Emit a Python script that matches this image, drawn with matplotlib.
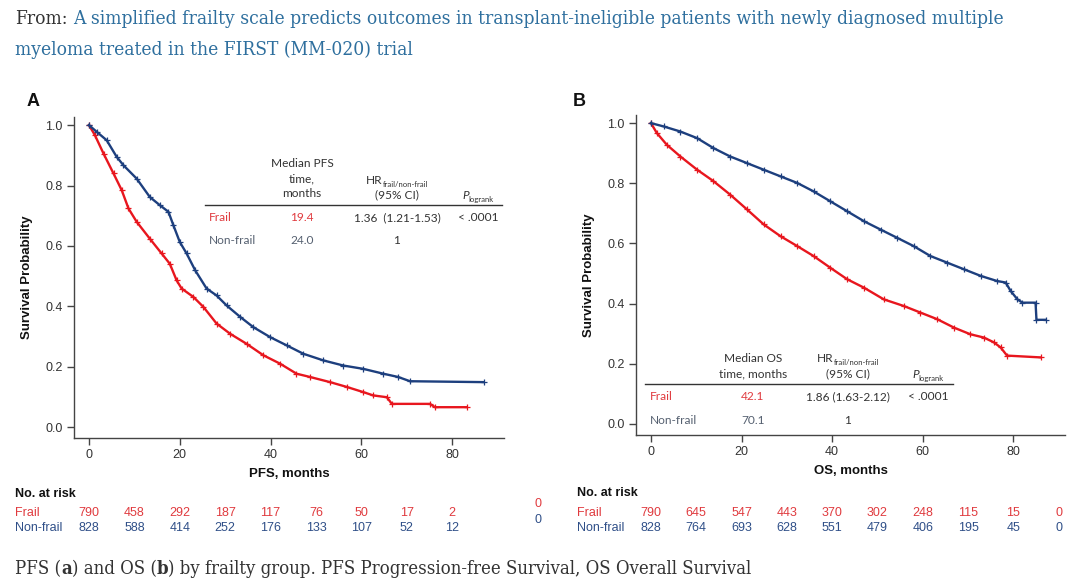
import matplotlib
matplotlib.use('Agg')
import matplotlib.pyplot as plt
from matplotlib.transforms import blended_transform_factory

# ---------------- data ----------------
pfs_frail_t = [0, 1.3, 3.2, 5.4, 7.2, 8.7, 10.5, 13.4, 16.0, 17.8, 19.3, 20.4, 23.0, 25.2, 28.1, 31.1,
               34.7, 38.4, 42.1, 45.7, 48.7, 53.1, 56.8, 60.4, 62.6, 65.6, 66.7, 75.1, 76.2, 83.2]
pfs_frail_s = [1.0, 0.967, 0.906, 0.84, 0.785, 0.724, 0.68, 0.624, 0.575, 0.541, 0.486, 0.459, 0.431, 0.398,
               0.343, 0.309, 0.276, 0.238, 0.21, 0.177, 0.166, 0.149, 0.133, 0.116, 0.105, 0.099, 0.077,
               0.077, 0.066, 0.066]
pfs_nonfrail_t = [0, 1.7, 3.9, 6.1, 7.6, 10.5, 13.4, 15.6, 17.5, 18.6, 20.0, 21.5, 23.4, 25.9, 28.1, 30.3,
                  33.3, 36.2, 39.9, 43.5, 47.2, 51.6, 56.0, 60.4, 64.8, 68.1, 70.7, 86.9]
pfs_nonfrail_s = [1.0, 0.978, 0.95, 0.895, 0.867, 0.823, 0.762, 0.735, 0.713, 0.668, 0.613, 0.575, 0.519,
                  0.459, 0.436, 0.403, 0.365, 0.331, 0.298, 0.271, 0.243, 0.221, 0.204, 0.193, 0.177,
                  0.166, 0.152, 0.149]

os_frail_t = [0, 1.3, 3.5, 6.5, 10.2, 13.8, 17.5, 21.2, 24.9, 28.6, 32.3, 35.9, 39.6, 43.3, 47.0, 51.4,
              55.8, 59.5, 63.2, 66.9, 70.5, 73.5, 75.7, 77.2, 78.6, 86.0]
os_frail_s = [1.0, 0.967, 0.928, 0.889, 0.845, 0.807, 0.762, 0.713, 0.663, 0.624, 0.591, 0.558, 0.519,
              0.481, 0.453, 0.414, 0.392, 0.370, 0.348, 0.320, 0.298, 0.287, 0.271, 0.254, 0.227, 0.221]
os_nonfrail_t = [0, 2.8, 6.5, 10.2, 13.8, 17.5, 21.2, 24.9, 28.6, 32.3, 35.9, 39.6, 43.3, 47.0, 50.7,
                 54.3, 58.0, 61.7, 65.4, 69.1, 72.8, 76.4, 78.3, 79.4, 80.9, 82.0, 84.9, 85.1, 87.1]
os_nonfrail_s = [1.0, 0.989, 0.972, 0.950, 0.917, 0.889, 0.867, 0.845, 0.823, 0.801, 0.773, 0.740, 0.707,
                 0.674, 0.646, 0.619, 0.591, 0.558, 0.536, 0.514, 0.492, 0.475, 0.470, 0.442, 0.414,
                 0.403, 0.403, 0.346, 0.346]

risk_times = [0, 10, 20, 30, 40, 50, 60, 70, 80, 90]
pfs_risk_frail = [790, 458, 292, 187, 117, 76, 50, 17, 2, 0]
pfs_risk_nonfrail = [828, 588, 414, 252, 176, 133, 107, 52, 12, 0]
os_risk_frail = [790, 645, 547, 443, 370, 302, 248, 115, 15, 0]
os_risk_nonfrail = [828, 764, 693, 628, 551, 479, 406, 195, 45, 0]

x_ticks = [0, 20, 40, 60, 80]
y_ticks = [0.0, 0.2, 0.4, 0.6, 0.8, 1.0]

pfs_median_hdr = ["Median PFS", "time,", "months"]
pfs_frail_row = ["19.4", "1.36  (1.21-1.53)", "< .0001"]
pfs_nonfrail_row = ["24.0", "1"]
os_median_hdr = ["Median OS", "time, months"]
os_frail_row = ["42.1", "1.86 (1.63-2.12)", "< .0001"]
os_nonfrail_row = ["70.1", "1"]

title_from = "From:"
title_line1 = "A simplified frailty scale predicts outcomes in transplant-ineligible patients with newly diagnosed multiple"
title_line2 = "myeloma treated in the FIRST (MM-020) trial"

# ---------------- style ----------------
RED = '#e8161e'
BLUE = '#1d3f7e'
RED_T = '#e03a3e'
BLUE_T = '#2f4f88'
GRAY_T = '#556070'
LINK = '#2e6f9e'
AX = '#444444'
SANS = ['Liberation Sans', 'DejaVu Sans']
TBL = ['Lato', 'DejaVu Sans']
SERIF = ['DejaVu Serif']

W, H = 1080, 586
fig = plt.figure(figsize=(W / 100, H / 100), dpi=100)
fig.patch.set_facecolor('white')


def fx(px):
    return px / W


def fy(py):
    return 1 - py / H


def txt(x, y, s, **kw):
    return fig.text(fx(x), fy(y), s, **kw)


renderer = fig.canvas.get_renderer()


def segs(x, y, parts, ha='left'):
    arts = []
    for s, kw, dy in parts:
        t = fig.text(0, 0, s, ha='left', va='baseline', **kw)
        arts.append((t, dy))
    widths = [t.get_window_extent(renderer).width for t, _ in arts]
    total = sum(widths)
    x0 = x if ha == 'left' else (x - total / 2 if ha == 'center' else x - total)
    for (t, dy), w in zip(arts, widths):
        t.set_position((fx(x0), fy(y + dy)))
        x0 += w
    return arts


def fit_size(s, target, start=12, **kw):
    t = fig.text(0, 0, s, fontsize=start, **kw)
    w = t.get_window_extent(renderer).width
    t.remove()
    return start * target / w


# ---------------- header ----------------
HEAD = dict(family=SERIF, fontstretch='condensed')
fs_head = fit_size(title_from + " " + title_line1, 990, **HEAD)
t_from = txt(15, 24, title_from, fontsize=fs_head, color='#333333', va='baseline', **HEAD)
wf = t_from.get_window_extent(renderer).width
txt(15 + wf + fs_head * 0.4, 24, title_line1, fontsize=fs_head, color=LINK, va='baseline', **HEAD)
txt(15, 55, title_line2, fontsize=fs_head, color=LINK, va='baseline', **HEAD)

# caption
fs_cap = fit_size("PFS (a) and OS (b) by frailty group. PFS Progression-free Survival, OS Overall Survival",
                  742, **HEAD)
ck = dict(fontsize=fs_cap, color='#333333', **HEAD)
cb = dict(fontsize=fs_cap, color='#333333', fontweight='bold', **HEAD)
segs(15, 574, [("PFS (", ck, 0), ("a", cb, 0), (") and OS (", ck, 0), ("b", cb, 0),
               (") by frailty group. PFS Progression-free Survival, OS Overall Survival", ck, 0)])


# ---------------- panels ----------------
def panel(rect, ylo, curves, xlabel, letter, letter_xy):
    ax = fig.add_axes([fx(rect[0]), fy(rect[1] + rect[3]), rect[2] / W, rect[3] / H])
    for t, s, c in curves:
        ax.plot(t, s, color=c, lw=1.7, marker='+', ms=4, mew=0.9, zorder=3)
    ax.set_xlim(-3.3, 91.4)
    ax.set_ylim(ylo, 1.027)
    ax.set_xticks(x_ticks)
    ax.set_yticks(y_ticks)
    ax.set_yticklabels([f"{v:.1f}" for v in y_ticks])
    for sp in ['top', 'right']:
        ax.spines[sp].set_visible(False)
    for sp in ['left', 'bottom']:
        ax.spines[sp].set_color(AX)
        ax.spines[sp].set_linewidth(1.0)
    ax.tick_params(direction='out', length=5, width=1, color=AX, labelsize=9, labelcolor='#333333', pad=3)
    for lab in ax.get_xticklabels() + ax.get_yticklabels():
        lab.set_family(SANS)
    ax.set_xlabel(xlabel, fontsize=9.5, fontweight='bold', family=SANS, color='#111111', labelpad=5)
    ax.set_ylabel("Survival Probability", fontsize=9.5, fontweight='bold', family=SANS, color='#111111',
                  labelpad=9)
    txt(letter_xy[0], letter_xy[1], letter, fontsize=13, fontweight='bold', family=SANS, color='#111111',
        va='center', ha='left')
    return ax


axA = panel((74, 117, 430, 321), -0.036,
            [(pfs_frail_t, pfs_frail_s, RED), (pfs_nonfrail_t, pfs_nonfrail_s, BLUE)],
            "PFS, months", "A", (27, 102))
axB = panel((636, 115, 429, 320), -0.037,
            [(os_frail_t, os_frail_s, RED), (os_nonfrail_t, os_nonfrail_s, BLUE)],
            "OS, months", "B", (573, 102))

# ---------------- inset tables ----------------
TFS = 8.6
TSUB = 5.6


def hr_header(xc, y):
    segs(xc, y, [("HR", dict(family=TBL, fontsize=TFS, color='#333333'), 0),
                 ("frail/non-frail", dict(family=TBL, fontsize=TSUB, color='#333333'), 3)], ha='center')


def p_header(xc, y):
    segs(xc, y, [("P", dict(family=TBL, fontsize=TFS, color='#333333', style='italic'), 0),
                 ("logrank", dict(family=TBL, fontsize=TSUB, color='#333333'), 3)], ha='center')


# Panel A table
for i, s in enumerate(pfs_median_hdr):
    txt(302, 167 + i * 15, s, family=TBL, fontsize=TFS, color='#333333', ha='center', va='baseline')
hr_header(397, 184)
txt(397, 198, "(95% CI)", family=TBL, fontsize=TFS, color='#333333', ha='center', va='baseline')
p_header(478, 199)
fig.add_artist(plt.Line2D([fx(205), fx(502)], [fy(205), fy(205)], color='#333333', lw=1.0))
txt(209, 221, "Frail", family=TBL, fontsize=TFS, color=RED_T, ha='left', va='baseline')
txt(302, 221, pfs_frail_row[0], family=TBL, fontsize=TFS, color=RED_T, ha='center', va='baseline')
txt(397, 221, pfs_frail_row[1], family=TBL, fontsize=TFS, color='#333333', ha='center', va='baseline')
txt(478, 221, pfs_frail_row[2], family=TBL, fontsize=TFS, color='#333333', ha='center', va='baseline')
txt(209, 244, "Non-frail", family=TBL, fontsize=TFS, color=GRAY_T, ha='left', va='baseline')
txt(302, 244, pfs_nonfrail_row[0], family=TBL, fontsize=TFS, color=GRAY_T, ha='center', va='baseline')
txt(397, 244, pfs_nonfrail_row[1], family=TBL, fontsize=TFS, color='#333333', ha='center', va='baseline')

# Panel B table
for i, s in enumerate(os_median_hdr):
    txt(753, 362 + i * 15, s, family=TBL, fontsize=TFS, color='#333333', ha='center', va='baseline')
hr_header(848, 362)
txt(848, 377, "(95% CI)", family=TBL, fontsize=TFS, color='#333333', ha='center', va='baseline')
p_header(928, 378)
fig.add_artist(plt.Line2D([fx(645), fx(953)], [fy(384), fy(384)], color='#333333', lw=1.0))
txt(650, 400, "Frail", family=TBL, fontsize=TFS, color=RED_T, ha='left', va='baseline')
txt(753, 400, os_frail_row[0], family=TBL, fontsize=TFS, color=RED_T, ha='center', va='baseline')
txt(848, 400, os_frail_row[1], family=TBL, fontsize=TFS, color='#333333', ha='center', va='baseline')
txt(928, 400, os_frail_row[2], family=TBL, fontsize=TFS, color='#333333', ha='center', va='baseline')
txt(650, 424, "Non-frail", family=TBL, fontsize=TFS, color=GRAY_T, ha='left', va='baseline')
txt(753, 424, os_nonfrail_row[0], family=TBL, fontsize=TFS, color=GRAY_T, ha='center', va='baseline')
txt(848, 424, os_nonfrail_row[1], family=TBL, fontsize=TFS, color='#333333', ha='center', va='baseline')

# ---------------- numbers at risk ----------------
RFS = 9


def risk(ax, x_label, frail, nonfrail, n, y_frail, y_non, y_head):
    txt(x_label, y_head, "No. at risk", family=SANS, fontsize=RFS, fontweight='bold', color='#111111',
        va='center', ha='left')
    txt(x_label, y_frail, "Frail", family=SANS, fontsize=RFS, color=RED_T, va='center', ha='left')
    txt(x_label, y_non, "Non-frail", family=SANS, fontsize=RFS, color=BLUE_T, va='center', ha='left')
    tr = blended_transform_factory(ax.transData, fig.transFigure)
    for tt, a, b in zip(risk_times[:n], frail[:n], nonfrail[:n]):
        fig.text(tt, fy(y_frail), str(a), transform=tr, family=SANS, fontsize=RFS, color=RED_T,
                 ha='center', va='center')
        fig.text(tt, fy(y_non), str(b), transform=tr, family=SANS, fontsize=RFS, color=BLUE_T,
                 ha='center', va='center')


risk(axA, 15, pfs_risk_frail, pfs_risk_nonfrail, 9, 513, 528, 494)
# stray final zeros of panel A table, printed further right
txt(538, 504, str(pfs_risk_frail[9]), family=SANS, fontsize=RFS, color=RED_T, ha='center', va='center')
txt(538, 520, str(pfs_risk_nonfrail[9]), family=SANS, fontsize=RFS, color=BLUE_T, ha='center', va='center')
risk(axB, 577, os_risk_frail, os_risk_nonfrail, 10, 513, 528, 493)

fig.savefig('out.png', dpi=100, facecolor='white')
